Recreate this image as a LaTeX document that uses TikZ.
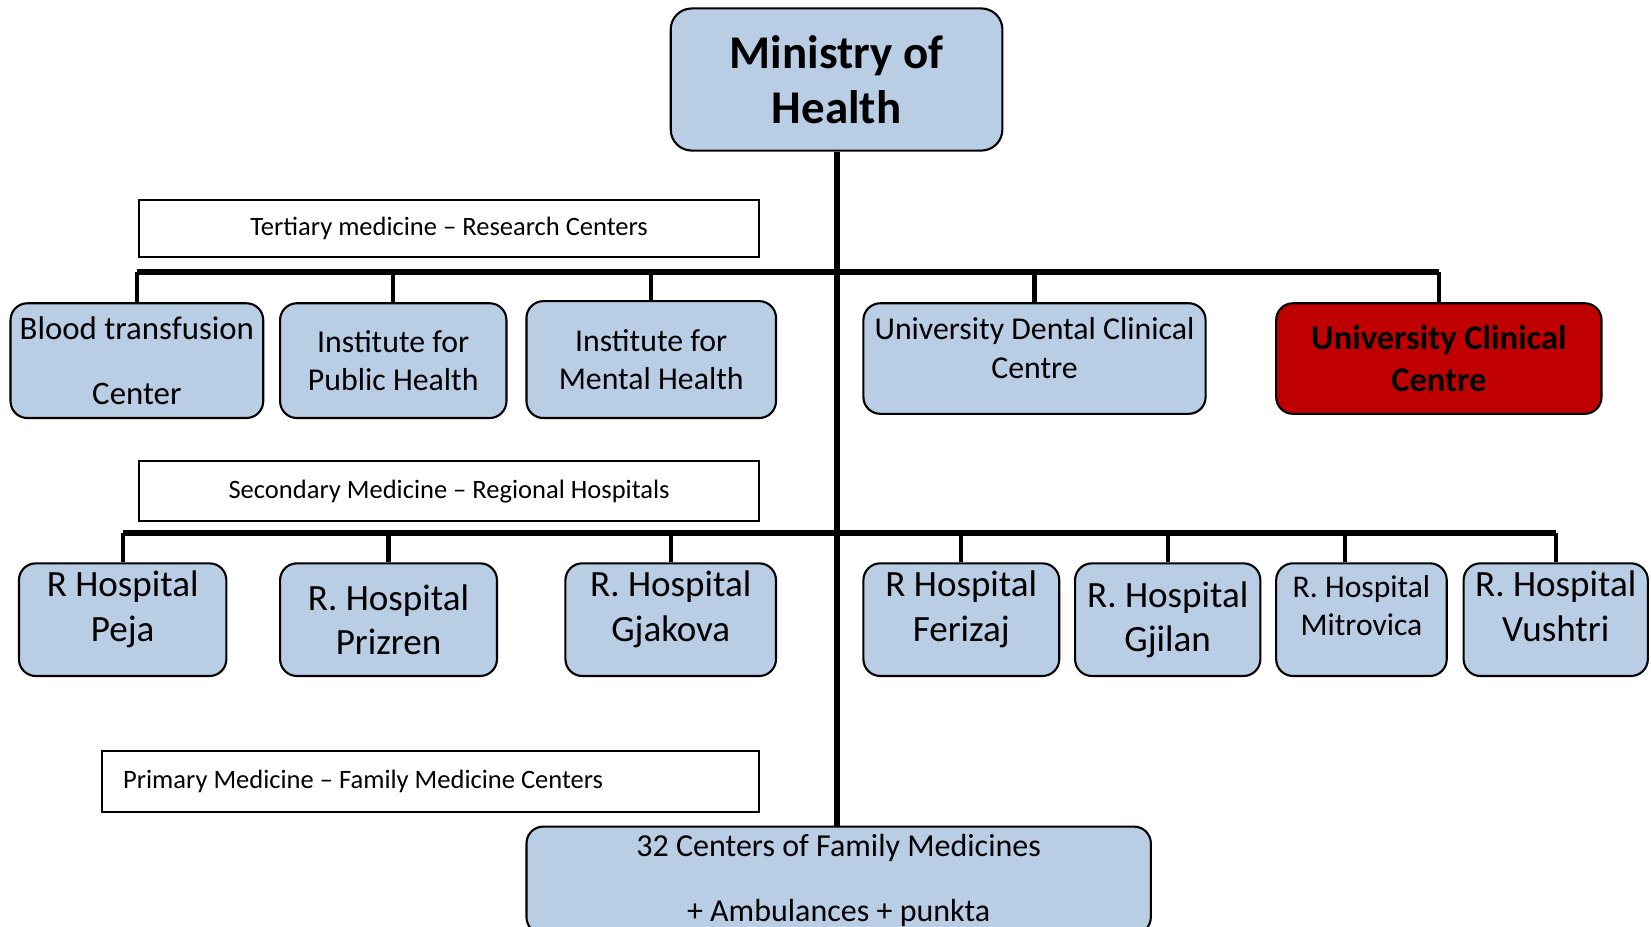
\documentclass[tikz,border=0pt]{standalone}
\usepackage{fontspec}
\setmainfont{Carlito}
\usepackage{tikz}
\usetikzlibrary{calc}
\definecolor{boxblue}{HTML}{B9CDE5}
\definecolor{boxred}{HTML}{C00000}
\tikzset{
  unit box/.style = {draw=black, line width=1pt, fill=boxblue, rounded corners=8pt,
    align=center, inner sep=2pt, minimum height=53.5pt}
}
\tikzset{
  level label/.style = {draw=black, line width=0.8pt, inner sep=2pt,
    font=\fontsize{12.6}{14}\selectfont, minimum height=27pt}
}
\tikzset{
  trunk/.style = {line width=2.9pt},
  branch/.style = {line width=2pt}
}
\tikzset{
  big text/.style = {font=\fontsize{17.6}{21.5}\selectfont},
  mid text/.style = {font=\fontsize{15.1}{18}\selectfont}
}
\newcommand{\lowstrut}{\rule[-13pt]{0pt}{13pt}}

\begin{document}
\begin{tikzpicture}[x=0.5pt, y=-0.5pt]
  \useasboundingbox (0,0) rectangle (1568,880);

  \node[unit box, minimum width=157.5pt, minimum height=67.5pt, rounded corners=10pt,
    font=\bfseries\fontsize{22.3}{26}\selectfont] (ministry) at (794.5,75.5) {Ministry of\\Health};

  % tertiary level
  \node[level label, minimum width=294.5pt] (tertiary) at (426.5,217)
    {Tertiary medicine – Research Centers};
  \node[unit box, minimum width=120pt, minimum height=54.5pt,
    font=\fontsize{15.6}{31}\selectfont] (blood) at (130,342.5) {Blood transfusion\\Center};
  \node[unit box, mid text, minimum width=107.5pt, minimum height=54.5pt]
    (publichealth) at (373.5,342.5) {Institute for\\Public Health};
  \node[unit box, mid text, minimum width=118.5pt, minimum height=55.5pt]
    (mentalhealth) at (618.5,341.5) {Institute for\\Mental Health};
  \node[unit box, font=\fontsize{15.1}{18.5}\selectfont, minimum width=162.5pt, minimum height=52.5pt]
    (dental) at (982.5,340.5) {University Dental Clinical\\Centre\rule[-10pt]{0pt}{10pt}};
  \node[unit box, fill=boxred, font=\bfseries\fontsize{16.4}{20}\selectfont,
    minimum width=154.5pt, minimum height=52.5pt] (ucc) at (1366.5,340.5) {University Clinical\\Centre};

  % secondary level
  \node[level label, minimum width=294.5pt, minimum height=28.5pt] (secondary) at (426.5,466.5)
    {Secondary Medicine – Regional Hospitals};
  \node[unit box, big text, minimum width=98.5pt] (peja) at (116.5,588.5) {R Hospital\\Peja\lowstrut};
  \node[unit box, font=\fontsize{17.6}{21}\selectfont, minimum width=103pt] (prizren) at (369,588.5)
    {R. Hospital\\Prizren};
  \node[unit box, big text, minimum width=100pt] (gjakova) at (637,588.5) {R. Hospital\\Gjakova\lowstrut};
  \node[unit box, big text, minimum width=93pt] (ferizaj) at (913,588.5) {R Hospital\\Ferizaj\lowstrut};
  \node[unit box, font=\fontsize{17.6}{21}\selectfont, minimum width=88pt] (gjilan) at (1109,588.5)
    {R. Hospital\\Gjilan};
  \node[unit box, font=\fontsize{15}{18}\selectfont, minimum width=81pt] (mitrovica) at (1293,588.5)
    {R. Hospital\\Mitrovica\lowstrut};
  \node[unit box, big text, minimum width=87.5pt] (vushtri) at (1477.5,588.5) {R. Hospital\\Vushtri\lowstrut};

  % primary level
  \node[level label, minimum height=29pt, text width=292pt, align=flush left, inner xsep=10pt]
    (primary) at (409,742) {Primary Medicine – Family Medicine Centers};
  \node[unit box, font=\fontsize{15.2}{31}\selectfont, minimum width=296.5pt, minimum height=51pt]
    (family) at (796.5,836) {32 Centers of Family Medicines\\+ Ambulances + punkta};

  \coordinate (bar1) at (0,258);
  \coordinate (bar2) at (0,506);

  \draw[trunk] (ministry.south) -- (ministry.south |- family.north);
  \draw[trunk] (blood.north |- bar1) -- (ucc.north |- bar1);
  \draw[trunk] (peja.north |- bar2) -- (vushtri.north |- bar2);

  \foreach \n in {blood,publichealth,mentalhealth,dental,ucc}
    \draw[branch] (\n.north |- bar1) -- (\n.north);
  \foreach \n in {peja,prizren,gjakova,ferizaj,gjilan,vushtri}
    \draw[branch] (\n.north |- bar2) -- (\n.north);
  \draw[branch] ($(mitrovica.north |- bar2)+(-16,0)$) -- ($(mitrovica.north)+(-16,0)$);
\end{tikzpicture}
\end{document}
